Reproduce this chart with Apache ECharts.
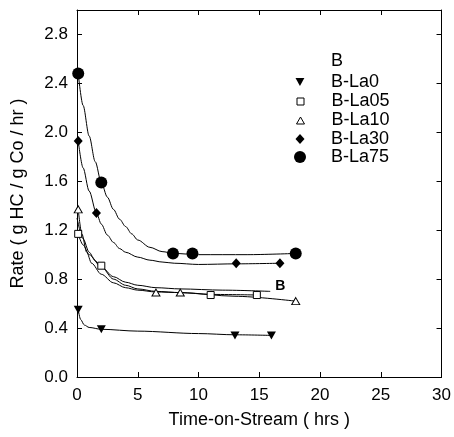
<!DOCTYPE html>
<html>
<head>
<meta charset="utf-8">
<script src="https://cdn.jsdelivr.net/npm/echarts@6/dist/echarts.min.js"></script>
<style>html,body{margin:0;padding:0;background:#fff}#c{width:454px;height:437px}</style>
</head>
<body>
<div id="c"></div>
<script>
// ---- measured points (Time-on-Stream hrs, Rate) ----
const ptsLa0  = [[0.1, 0.55], [2.0, 0.39], [13.0, 0.34], [16.0, 0.34]];
const ptsLa05 = [[0.1, 1.17], [2.0, 0.91], [11.0, 0.67], [14.8, 0.67]];
const ptsLa10 = [[0.1, 1.37], [6.5, 0.69], [8.5, 0.69], [18.0, 0.62]];
const ptsLa30 = [[0.1, 1.93], [1.6, 1.34], [13.1, 0.93], [16.7, 0.93]];
const ptsLa75 = [[0.1, 2.48], [2.0, 1.59], [7.9, 1.01], [9.5, 1.01], [18.0, 1.01]];

// ---- fitted curves ----
const fitB    = [[0.0, 1.30], [0.5, 1.13], [1.0, 1.02], [1.5, 0.95], [2.0, 0.90], [3.0, 0.82], [4.0, 0.775], [5.0, 0.75], [6.5, 0.73], [8.5, 0.72], [12.0, 0.71], [15.9, 0.70]];
const fitLa0  = [[0.1, 0.55], [0.3, 0.47], [0.6, 0.425], [1.0, 0.405], [2.0, 0.39], [5.0, 0.375], [10.0, 0.355], [13.0, 0.345], [16.0, 0.34]];
const fitLa05 = [[0.1, 1.17], [0.5, 1.08], [1.0, 1.00], [2.0, 0.90], [3.0, 0.80], [4.0, 0.75], [5.0, 0.72], [6.5, 0.70], [8.5, 0.69], [11.0, 0.675], [15.0, 0.67]];
const fitLa10 = [[0.1, 1.37], [0.4, 1.17], [0.8, 1.02], [1.2, 0.93], [2.0, 0.84], [3.0, 0.77], [4.0, 0.73], [5.0, 0.71], [6.5, 0.695], [8.5, 0.69], [13.0, 0.66], [18.0, 0.62]];
const fitLa30 = [[0.1, 1.93], [0.5, 1.71], [1.0, 1.52], [1.6, 1.34], [2.0, 1.25], [2.5, 1.16], [3.0, 1.10], [3.5, 1.05], [4.0, 1.02], [5.0, 0.98], [6.0, 0.955], [7.0, 0.94], [8.0, 0.93], [10.0, 0.92], [13.1, 0.925], [16.7, 0.93]];
const fitLa75 = [[0.1, 2.48], [0.5, 2.22], [1.0, 1.97], [1.5, 1.76], [2.0, 1.59], [2.5, 1.47], [3.0, 1.37], [3.5, 1.29], [4.0, 1.23], [4.5, 1.17], [5.0, 1.12], [6.0, 1.06], [7.0, 1.025], [8.0, 1.01], [10.0, 1.0], [14.0, 1.0], [18.0, 1.01]];

const legendNames = ['B', 'B-La0', 'B-La05', 'B-La10', 'B-La30', 'B-La75'];
const xTicks = [0, 5, 10, 15, 20, 25, 30];
const yTicks = [0.0, 0.4, 0.8, 1.2, 1.6, 2.0, 2.4, 2.8];

const FONT = '"Liberation Sans", Arial, Helvetica, sans-serif';
const BLACK = '#000';

const markerStyle = {
  'B-La0':  {symbol: 'path://M0,0 L10,0 L5,9 Z', size: [9, 8], fill: BLACK},
  'B-La05': {symbol: 'rect', size: 7, fill: '#fff'},
  'B-La10': {symbol: 'triangle', size: [8, 7], fill: '#fff'},
  'B-La30': {symbol: 'diamond', size: [9, 10], fill: BLACK},
  'B-La75': {symbol: 'circle', size: 12, fill: BLACK}
};

function curve(name, data, extra) {
  return Object.assign({
    name: name, type: 'line', data: data, smooth: 0.3, smoothMonotone: 'x',
    showSymbol: false, symbol: 'none', silent: true, z: 2,
    lineStyle: {color: BLACK, width: 1}, itemStyle: {color: BLACK}
  }, extra || {});
}
function marks(name, data) {
  const m = markerStyle[name];
  return {
    name: name, type: 'scatter', data: data, symbol: m.symbol, symbolSize: m.size, z: 3,
    itemStyle: {color: m.fill, borderColor: BLACK, borderWidth: m.fill === '#fff' ? 1 : 0, opacity: 1}
  };
}

const rowY = [57, 77, 96, 115, 135, 154];
const legends = legendNames.map(function (n, i) {
  const m = markerStyle[n];
  const h = m ? (Array.isArray(m.size) ? m.size[1] : m.size) : 10;
  const w = m ? (Array.isArray(m.size) ? m.size[0] : m.size) : 10;
  return {
    data: [m ? {name: n, icon: m.symbol, itemStyle: {color: m.fill, borderColor: BLACK, borderWidth: m.fill === '#fff' ? 1 : 0}}
             : {name: n, icon: 'none'}],
    left: 300 - w / 2, top: rowY[i] - h / 2, padding: 0,
    itemWidth: w, itemHeight: h, selectedMode: false,
    formatter: function (name) { return '{g|}' + name; },
    textStyle: {color: BLACK, fontSize: 18, fontFamily: FONT,
      rich: {g: {width: 31 - w / 2 - 5}}}
  };
});

const axisCommon = {
  type: 'value',
  axisLine: {show: true, onZero: false, lineStyle: {color: BLACK, width: 1}},
  axisTick: {show: true, inside: true, length: 5, lineStyle: {color: BLACK, width: 1}},
  splitLine: {show: false}
};

const chart = echarts.init(document.getElementById('c'), null, {renderer: 'canvas'});
chart.setOption({
  animation: false,
  backgroundColor: '#fff',
  grid: {left: 77, right: 10, top: 10, bottom: 60, containLabel: false},
  legend: legends,
  xAxis: [
    Object.assign({}, axisCommon, {
      position: 'bottom', min: xTicks[0], max: xTicks[xTicks.length - 1], interval: xTicks[1] - xTicks[0],
      axisLabel: {color: BLACK, fontSize: 17, fontFamily: FONT, margin: 10},
      name: 'Time-on-Stream ( hrs )', nameLocation: 'middle', nameGap: 34,
      nameTextStyle: {color: BLACK, fontSize: 18, fontFamily: FONT}
    }),
    Object.assign({}, axisCommon, {
      position: 'top', min: xTicks[0], max: xTicks[xTicks.length - 1], interval: xTicks[1] - xTicks[0],
      axisLabel: {show: false}
    })
  ],
  yAxis: [
    Object.assign({}, axisCommon, {
      position: 'left', min: yTicks[0], max: 3.0, interval: yTicks[1] - yTicks[0],
      axisLabel: {color: BLACK, fontSize: 17, fontFamily: FONT, margin: 9,
        formatter: function (v) { return v > 2.9 ? '' : v.toFixed(1); }},
      name: 'Rate ( g HC / g Co / hr )', nameLocation: 'middle', nameGap: 50,
      nameTextStyle: {color: BLACK, fontSize: 18, fontFamily: FONT}
    }),
    Object.assign({}, axisCommon, {
      position: 'right', min: yTicks[0], max: 3.0, interval: yTicks[1] - yTicks[0],
      axisLabel: {show: false}
    })
  ],
  series: [
    curve('B', fitB, {endLabel: {show: true, formatter: 'B', color: BLACK, fontSize: 14, fontWeight: 'bold', fontFamily: FONT, distance: 5, offset: [0, -5]}}),
    curve('B-La0 fit', fitLa0),
    curve('B-La05 fit', fitLa05),
    curve('B-La10 fit', fitLa10),
    curve('B-La30 fit', fitLa30),
    curve('B-La75 fit', fitLa75),
    marks('B-La0', ptsLa0),
    marks('B-La05', ptsLa05),
    marks('B-La10', ptsLa10),
    marks('B-La30', ptsLa30),
    marks('B-La75', ptsLa75)
  ]
});
</script>
</body>
</html>
